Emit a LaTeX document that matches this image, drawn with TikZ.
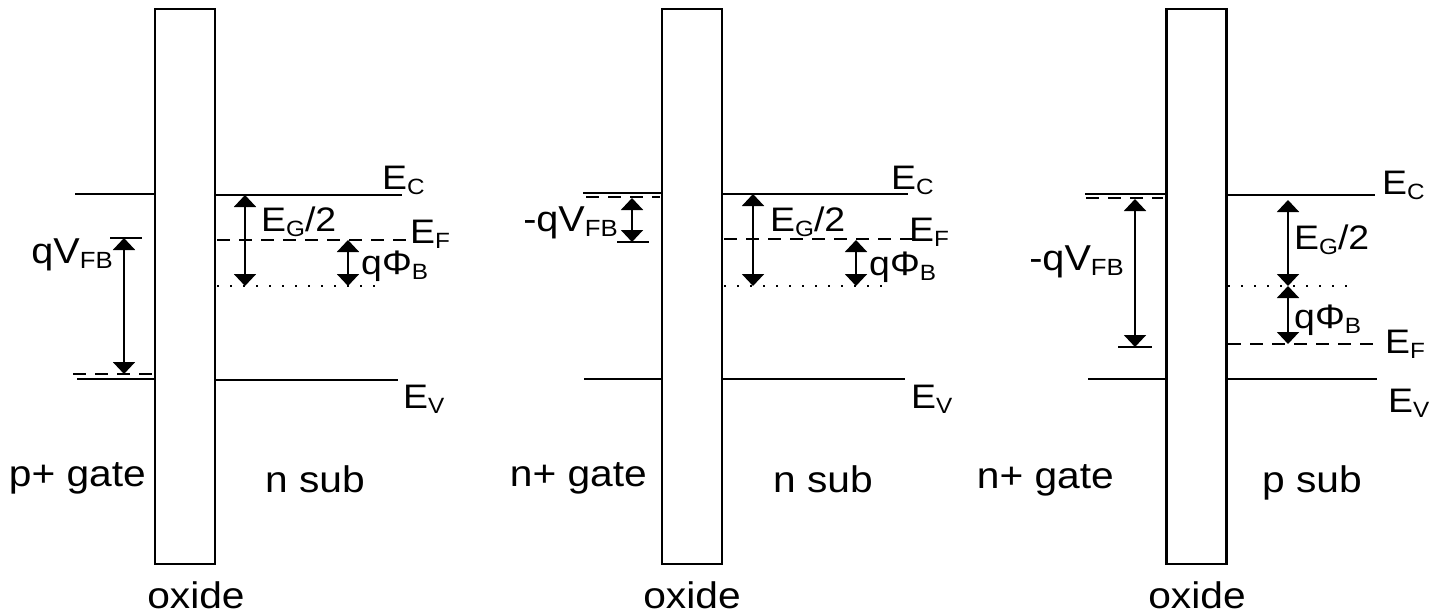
\documentclass[tikz,border=0pt]{standalone}
\usepackage{fontspec}
\setmainfont{Liberation Sans}[FakeStretch=1.1]
\usetikzlibrary{arrows.meta}
\newcommand{\lsub}[1]{\raisebox{-0.15em}{\scalebox{0.65}{#1}}}

\begin{document}
\begin{tikzpicture}[
    x=1pt, y=-1pt,
    oxide/.style = {rectangle, draw, line width=2.2pt, minimum width=60pt, minimum height=555pt, inner sep=0pt},
    band/.style = {line width=2.2pt},
    fermi/.style = {line width=2.2pt, dash pattern=on 13pt off 9pt},
    midgap/.style = {line width=2.2pt, dash pattern=on 2.2pt off 10.8pt},
    gap/.style = {line width=2pt, {Triangle[width=22pt,length=12pt]}-{Triangle[width=22pt,length=12pt]}},
    level/.style = {font=\fontsize{34}{38}\selectfont, inner sep=0pt, anchor=base west},
    vfb/.style = {font=\fontsize{36}{40}\selectfont, inner sep=0pt, anchor=base east},
    region/.style = {font=\fontsize{37}{44}\selectfont, inner sep=0pt}
]
\useasboundingbox (0,0) rectangle (1447,615);

% Panel 1: p+ gate on n substrate
\node (ox1) [oxide] at (185,286.5) {};
\draw [band] (75,194) -- (ox1.west |- 0,194);
\draw [band] (77,379) -- (ox1.west |- 0,379);
\draw [fermi] (73,374) -- (152,374);
\draw [band] (110,238) -- (142,238);
\coordinate (vfbA1) at (124,238);
\coordinate (vfbB1) at (124,374);
\draw [gap] (vfbA1) -- (vfbB1);
\node (vfb1) [vfb] at (113,263) {qV\lsub{FB}};

\draw [band] (ox1.east |- 0,195) -- (402,195);
\draw [fermi] (217,240) -- (410,240);
\draw [midgap] (217,286) -- (383,286);
\draw [band] (ox1.east |- 0,380) -- (398,380);
\coordinate (egA1) at (245,195);
\coordinate (egB1) at (245,286);
\coordinate (phA1) at (348,240);
\coordinate (phB1) at (348,286);
\draw [gap] (egA1) -- (egB1);
\draw [gap] (phA1) -- (phB1);
\node (ec1) [level] at (382,189) {E\lsub{C}};
\node (ef1) [level] at (410,243) {E\lsub{F}};
\node (ev1) [level] at (403,408) {E\lsub{V}};
\node (eg1) [level] at (261,231) {E\lsub{G}/2};
\node (ph1) [level] at (361,274) {qΦ\lsub{B}};

\node (gate1) [region, anchor=base east] at (146,486) {p+ gate};
\node (sub1) [region, anchor=base west] at (265,492) {n sub};
\node (oxl1) [region, anchor=base] at (196,608) {oxide};

% Panel 2: n+ gate on n substrate
\node (ox2) [oxide] at (692,286.5) {};
\draw [band] (583,193) -- (ox2.west |- 0,193);
\draw [fermi] (586,197) -- (660,197);
\draw [band] (584,379) -- (ox2.west |- 0,379);
\draw [band] (617,242) -- (649,242);
\coordinate (vfbA2) at (632,198);
\coordinate (vfbB2) at (632,242);
\draw [gap] (vfbA2) -- (vfbB2);
\node (vfb2) [vfb] at (618,231) {-qV\lsub{FB}};

\draw [band] (ox2.east |- 0,194) -- (908,194);
\draw [fermi] (724,239) -- (915,239);
\draw [midgap] (724,286) -- (888,286);
\draw [band] (ox2.east |- 0,379) -- (905,379);
\coordinate (egA2) at (753,194);
\coordinate (egB2) at (753,286);
\coordinate (phA2) at (856,240);
\coordinate (phB2) at (856,286);
\draw [gap] (egA2) -- (egB2);
\draw [gap] (phA2) -- (phB2);
\node (ec2) [level] at (891,189) {E\lsub{C}};
\node (ef2) [level] at (909,241) {E\lsub{F}};
\node (ev2) [level] at (911,408) {E\lsub{V}};
\node (eg2) [level] at (770,231) {E\lsub{G}/2};
\node (ph2) [level] at (869,275) {qΦ\lsub{B}};

\node (gate2) [region, anchor=base east] at (647,486) {n+ gate};
\node (sub2) [region, anchor=base west] at (773,492) {n sub};
\node (oxl2) [region, anchor=base] at (692,608) {oxide};

% Panel 3: n+ gate on p substrate
\node (ox3) [oxide] at (1196.5,286.5) {};
\draw [band] (1085,194) -- (ox3.west |- 0,194);
\draw [fermi] (1086,198) -- (1163,198);
\draw [band] (1088,379) -- (ox3.west |- 0,379);
\draw [band] (1118,347) -- (1152,347);
\coordinate (vfbA3) at (1135,199);
\coordinate (vfbB3) at (1135,347);
\draw [gap] (vfbA3) -- (vfbB3);
\node (vfb3) [vfb] at (1124,270) {-qV\lsub{FB}};

\draw [band] (ox3.east |- 0,195) -- (1375,195);
\draw [midgap] (1228,286) -- (1355,286);
\draw [fermi] (1228,344) -- (1382,344);
\draw [band] (ox3.east |- 0,379) -- (1377,379);
\coordinate (egA3) at (1288,200);
\coordinate (egB3) at (1288,286);
\coordinate (phA3) at (1288,286);
\coordinate (phB3) at (1288,344);
\draw [gap] (egA3) -- (egB3);
\draw [gap] (phA3) -- (phB3);
\node (ec3) [level] at (1382,194) {E\lsub{C}};
\node (ef3) [level] at (1385,353) {E\lsub{F}};
\node (ev3) [level] at (1388,412) {E\lsub{V}};
\node (eg3) [level] at (1294,249) {E\lsub{G}/2};
\node (ph3) [level] at (1294,328) {qΦ\lsub{B}};

\node (gate3) [region, anchor=base east] at (1114,488) {n+ gate};
\node (sub3) [region, anchor=base west] at (1262,492) {p sub};
\node (oxl3) [region, anchor=base] at (1197,608) {oxide};

\end{tikzpicture}
\end{document}
